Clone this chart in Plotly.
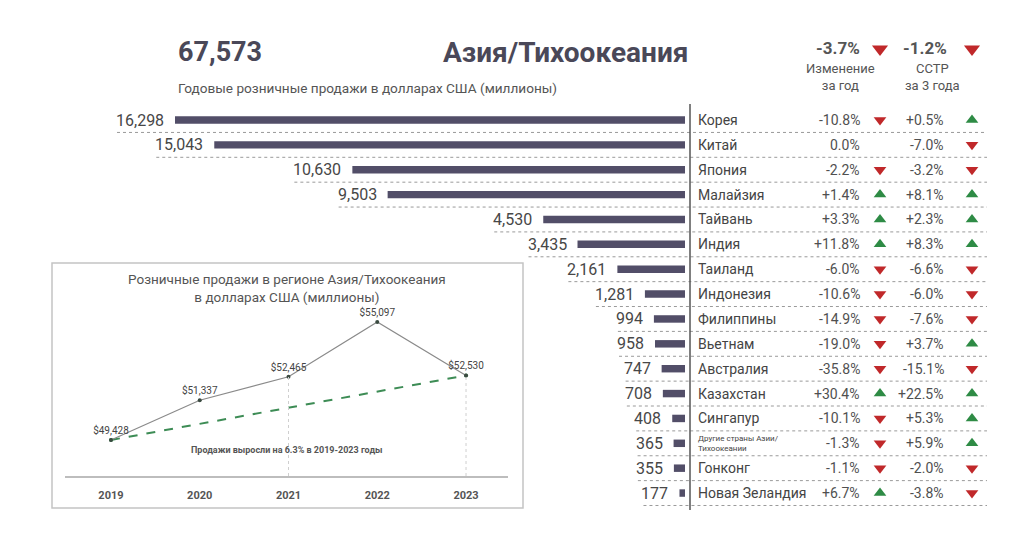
import plotly.graph_objects as go

countries = ["Корея", "Китай", "Япония", "Малайзия", "Тайвань", "Индия", "Таиланд", "Индонезия",
             "Филиппины", "Вьетнам", "Австралия", "Казахстан", "Сингапур",
             "Другие страны Азии/<br>Тихоокеании", "Гонконг", "Новая Зеландия"]
sales = [16298, 15043, 10630, 9503, 4530, 3435, 2161, 1281, 994, 958, 747, 708, 408, 365, 355, 177]
yoy = [-10.8, 0.0, -2.2, 1.4, 3.3, 11.8, -6.0, -10.6, -14.9, -19.0, -35.8, 30.4, -10.1, -1.3, -1.1, 6.7]
cagr = [0.5, -7.0, -3.2, 8.1, 2.3, 8.3, -6.6, -6.0, -7.6, 3.7, -15.1, 22.5, 5.3, 5.9, -2.0, -3.8]

total_sales = 67573
total_yoy = -3.7
total_cagr = -1.2

years = [2019, 2020, 2021, 2022, 2023]
totals = [49428, 51337, 52465, 55097, 52530]

W, H = 1024, 546
OFF = 8  # page margin of the html body
FONT = "Roboto"
DARK = "#4a4858"
TEXT = "#505050"
BAR = "#524e68"
RED = "#c0282a"
GREEN = "#2e8b45"

rows = list(range(len(countries)))
row_top, row_step = 120, 24.87
bar_right, bar_scale = 685, 510 / 16298


def pct(v):
    return "0.0%" if v == 0 else f"{v:+.1f}%"


def arrow(v):
    return "triangle-up" if v > 0 else "triangle-down"


def arrow_col(v):
    return GREEN if v > 0 else RED


def fx(p):
    return (p - OFF) / W


def fy(p):
    return 1 - (p - OFF) / H


fig = go.Figure()

# bars (grow leftwards from the divider)
fig.add_trace(go.Bar(x=sales, y=rows, orientation="h", width=0.3,
                     marker=dict(color=BAR, line_width=0), hoverinfo="skip"))

# arrows in the table
nz = [i for i in rows if yoy[i] != 0]
fig.add_trace(go.Scatter(x=[880] * len(nz), y=nz, xaxis="x2", yaxis="y", mode="markers",
                         marker=dict(symbol=[arrow(yoy[i]) for i in nz],
                                     color=[arrow_col(yoy[i]) for i in nz], size=11)))
fig.add_trace(go.Scatter(x=[972] * len(rows), y=rows, xaxis="x2", yaxis="y", mode="markers",
                         marker=dict(symbol=[arrow(v) for v in cagr],
                                     color=[arrow_col(v) for v in cagr], size=11)))
# header arrows
fig.add_trace(go.Scatter(x=[880, 972], y=[49, 49], xaxis="x2", yaxis="y2", mode="markers",
                         marker=dict(symbol=[arrow(total_yoy), arrow(total_cagr)],
                                     color=[arrow_col(total_yoy), arrow_col(total_cagr)], size=14)))

# inset line chart
fig.add_trace(go.Scatter(x=[years[0], years[-1]], y=[totals[0], totals[-1]], xaxis="x3", yaxis="y3",
                         mode="lines+markers", line=dict(color="#3d8c55", width=2, dash="dash"),
                         marker=dict(size=4, color="#3d8c55")))
fig.add_trace(go.Scatter(x=years, y=totals, xaxis="x3", yaxis="y3", mode="lines+markers+text",
                         line=dict(color="#8a8a8a", width=1.2),
                         marker=dict(size=4, color="#3a4a40"),
                         text=[f"${v:,}" for v in totals], textposition="top center",
                         textfont=dict(family=FONT, size=10, color="#444"), cliponaxis=False))

shapes = []
ann = []

# value labels and dotted separators
for i, v in enumerate(sales):
    label = f"{v:,}"
    ann.append(dict(x=v, y=i, xref="x", yref="y", text=label, showarrow=False, xanchor="right",
                    xshift=-9, font=dict(family=FONT, size=16, color="#474747")))
    lw = 9 * sum(c.isdigit() for c in label) + 4 * label.count(",")
    x0 = bar_right - v * bar_scale - 9 - lw
    shapes.append(dict(type="line", xref="x2", yref="y", x0=x0, x1=987, y0=i + 0.5, y1=i + 0.5,
                       line=dict(color="#9a9a9a", width=1, dash="dot")))

# table text
for i, name in enumerate(countries):
    small = "<br>" in name
    ann.append(dict(x=696, y=i, xref="x2", yref="y", text=name, showarrow=False, xanchor="left",
                    align="left", font=dict(family=FONT, size=8 if small else 14, color="#444")))
    ann.append(dict(x=862, y=i, xref="x2", yref="y", text=pct(yoy[i]), showarrow=False,
                    xanchor="right", font=dict(family=FONT, size=14, color=TEXT)))
    ann.append(dict(x=946, y=i, xref="x2", yref="y", text=pct(cagr[i]), showarrow=False,
                    xanchor="right", font=dict(family=FONT, size=14, color=TEXT)))

# divider
shapes.append(dict(type="line", xref="x2", yref="y2", x0=690, x1=690, y0=104, y1=510,
                   line=dict(color="#555", width=1.5)))

# header
ann += [
    dict(x=176, y=52, xref="x2", yref="y2", text=f"<b>{total_sales:,}</b>", showarrow=False,
         xanchor="left", font=dict(family=FONT, size=27, color=DARK)),
    dict(x=565, y=52, xref="x2", yref="y2", text="<b>Азия/Тихоокеания</b>", showarrow=False,
         font=dict(family=FONT, size=28, color=DARK)),
    dict(x=176, y=88, xref="x2", yref="y2", text="Годовые розничные продажи в долларах США (миллионы)",
         showarrow=False, xanchor="left", font=dict(family=FONT, size=13.6, color="#555")),
    dict(x=862, y=48, xref="x2", yref="y2", text=f"<b>{pct(total_yoy)}</b>", showarrow=False,
         xanchor="right", font=dict(family=FONT, size=17, color="#555")),
    dict(x=949, y=48, xref="x2", yref="y2", text=f"<b>{pct(total_cagr)}</b>", showarrow=False,
         xanchor="right", font=dict(family=FONT, size=17, color="#555")),
    dict(x=840, y=77, xref="x2", yref="y2", text="Изменение<br>за год", showarrow=False,
         font=dict(family=FONT, size=13, color="#555")),
    dict(x=932, y=77, xref="x2", yref="y2", text="CCTP<br>за 3 года", showarrow=False,
         font=dict(family=FONT, size=13, color="#555")),
]

# inset box, title, note and guide lines
shapes.append(dict(type="rect", xref="x2", yref="y2", x0=52, x1=523, y0=263, y1=508,
                   line=dict(color="#c4c4c4", width=1.5)))
ann.append(dict(x=287, y=288, xref="x2", yref="y2",
                text="Розничные продажи в регионе Азия/Тихоокеания<br>в долларах США (миллионы)",
                showarrow=False, font=dict(family=FONT, size=13.5, color="#555")))
ann.append(dict(x=287, y=450, xref="x2", yref="y2", text="<b>Продажи выросли на 6.3% в 2019-2023 годы</b>",
                showarrow=False, font=dict(family=FONT, size=9, color="#555")))
for yr in (2021, 2023):
    shapes.append(dict(type="line", xref="x3", yref="y3", x0=yr, x1=yr, y0=47697,
                       y1=totals[years.index(yr)], line=dict(color="#cfcfcf", width=1, dash="dot")))

fig.update_layout(
    width=W, height=H, margin=dict(l=0, r=0, t=0, b=0),
    paper_bgcolor="white", plot_bgcolor="rgba(0,0,0,0)", showlegend=False,
    xaxis=dict(domain=[0, fx(bar_right)], range=[(bar_right - OFF) / bar_scale, 0], visible=False),
    yaxis=dict(domain=[0, 1], range=[(H + OFF - row_top) / row_step, (OFF - row_top) / row_step],
               visible=False),
    xaxis2=dict(domain=[0, 1], range=[OFF, W + OFF], anchor="y2", visible=False),
    yaxis2=dict(domain=[0, 1], range=[H + OFF, OFF], anchor="x2", visible=False),
    xaxis3=dict(domain=[fx(65), fx(508)], range=[2018.482, 2023.473], anchor="y3",
                tickvals=years, ticktext=[f"<b>{y}</b>" for y in years],
                tickfont=dict(family=FONT, size=11, color="#555"),
                ticks="outside", ticklen=8, tickcolor="rgba(0,0,0,0)",
                showline=True, linecolor="#bdbdbd", linewidth=2, showgrid=False, zeroline=False),
    yaxis3=dict(domain=[fy(476), fy(300)], range=[47697, 56156], anchor="x3",
                visible=False, showgrid=False),
    shapes=shapes, annotations=ann,
)

fig.write_html("out.html")
